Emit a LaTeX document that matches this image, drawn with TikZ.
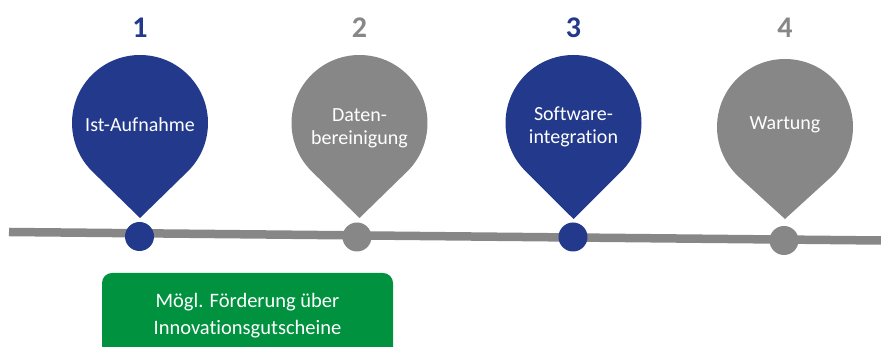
\documentclass[tikz,border=0pt]{standalone}
\usepackage{fontspec}
\setmainfont{Carlito}[Ligatures=NoCommon]
\definecolor{pinblue}{HTML}{233A8C}
\definecolor{pingray}{HTML}{878787}
\definecolor{boxgreen}{HTML}{00923F}

% teardrop marker: colour, centre x, centre y, tip y (radius 68)
\newcommand\pinshape[4]{%
  \pgfmathsetmacro\pinang{acos(68/(#3-#4))-90}%
  \fill[#1] (#2,#4) -- ([shift={(\pinang:68)}]#2,#3)
    arc[start angle=\pinang, end angle={180-\pinang}, radius=68] -- cycle;}

\begin{document}
\begin{tikzpicture}[x=1pt,y=1pt,
  pintext/.style={text=white, font=\fontsize{20}{23}\selectfont, align=center, inner sep=0pt},
  stepnum/.style={font=\fontsize{30}{30}\selectfont\bfseries, inner sep=0pt},
  dotmark/.style={circle, inner sep=0pt, minimum size=29pt},
  fundtext/.style={text=white, align=center, font=\fontsize{20.5}{27}\selectfont, inner sep=0pt}]
\clip (0,0) rectangle (881,347);

% timeline axis
\coordinate (lstart) at (9,115);
\coordinate (lend) at (881,106.5);
\draw[pingray, line width=8.5pt] (lstart) -- (lend);

% milestone dots
\node[dotmark, fill=pinblue] (d1) at (139.5,110.5) {};
\node[dotmark, fill=pingray] (d2) at (357,110) {};
\node[dotmark, fill=pinblue] (d3) at (573,110) {};
\node[dotmark, fill=pingray] (d4) at (784,106.5) {};

% markers
\pinshape{pinblue}{140}{224}{129}
\pinshape{pingray}{359.5}{224}{129}
\pinshape{pinblue}{573.5}{224}{128}
\pinshape{pingray}{785}{220}{128}

% step numbers
\node[stepnum, text=pinblue] (n1) at (140,319) {1};
\node[stepnum, text=pingray] (n2) at (359.5,319) {2};
\node[stepnum, text=pinblue] (n3) at (573.5,319) {3};
\node[stepnum, text=pingray] (n4) at (785,319) {4};

% marker labels
\node[pintext] (t1) at (140,222) {Ist-Aufnahme};
\node[pintext] (t2) at (359.5,219) {Daten-\\bereinigung};
\node[pintext] (t3) at (573.5,220) {Software-\\integration};
\node[pintext] (t4) at (785,222) {Wartung};

% funding note
\fill[boxgreen, rounded corners=10pt] (102,74) rectangle (393,-20);
\node[fundtext] (fund) at (247.5,31) {Mögl. Förderung über\\Innovationsgutscheine};
\end{tikzpicture}
\end{document}
